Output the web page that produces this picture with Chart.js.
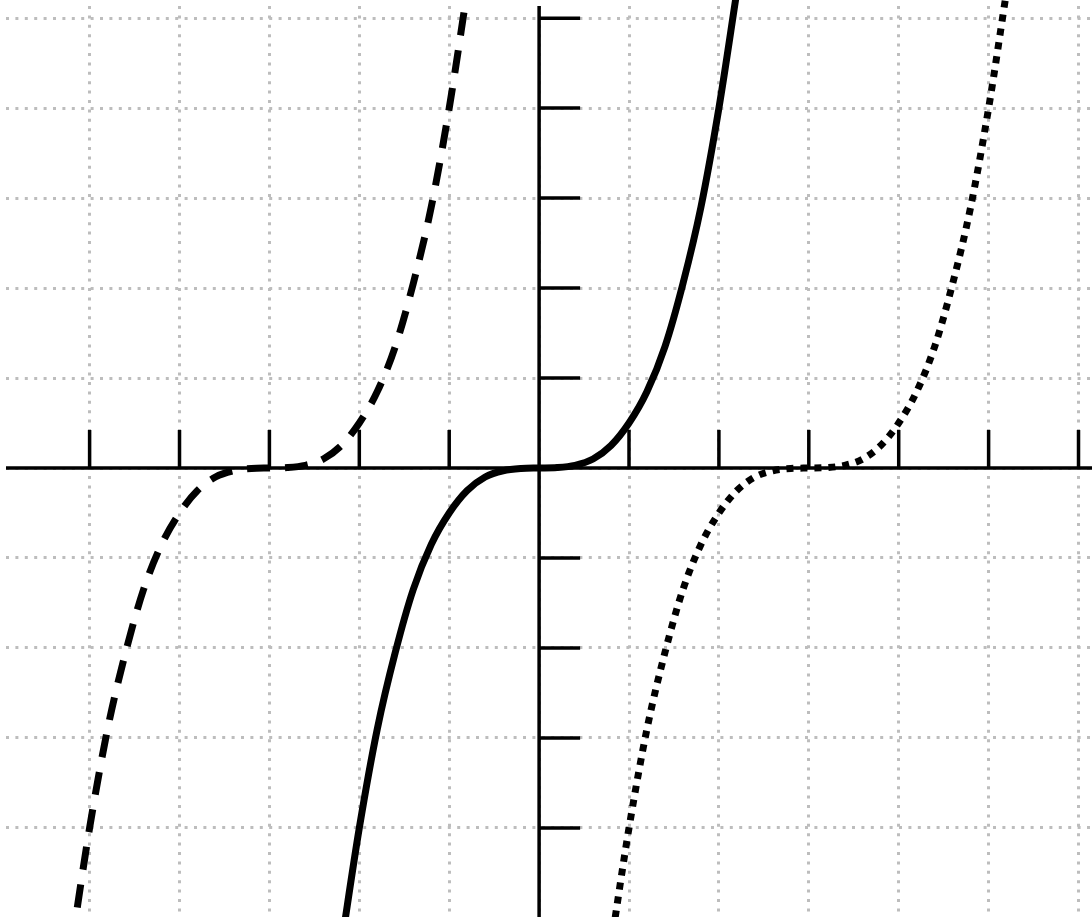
<!DOCTYPE html>
<html>
<head>
<meta charset="utf-8">
<script src="https://cdn.jsdelivr.net/npm/chart.js@4.4.0/dist/chart.umd.min.js"></script>
<style>
  html, body { margin: 0; padding: 0; background: #fff; }
  #wrap { width: 1092px; height: 917px; position: relative; }
</style>
</head>
<body>
<div id="wrap"><canvas id="cubic"></canvas></div>

<script>
// values (x in grid units, y in units where one grid row = 2)
var solidX  = [-2.2, -2.0, -1.8, -1.6, -1.4, -1.2, -1.0, -0.8, -0.6, -0.4, -0.2, 0, 0.2, 0.4, 0.6, 0.8, 1.0, 1.2, 1.4, 1.6, 1.8, 2.0, 2.2];
var solidY  = [-10.6, -8.0, -5.8, -4.1, -2.7, -1.7, -1.0, -0.5, -0.2, -0.06, -0.01, 0, 0.01, 0.06, 0.2, 0.5, 1.0, 1.7, 2.7, 4.1, 5.8, 8.0, 10.6];

var dashedX = [-5.2, -5.0, -4.8, -4.6, -4.4, -4.2, -4.0, -3.8, -3.6, -3.4, -3.2, -3.0, -2.8, -2.6, -2.4, -2.2, -2.0, -1.8, -1.6, -1.4, -1.2, -1.0, -0.8];
var dashedY = [-10.6, -8.0, -5.8, -4.1, -2.7, -1.7, -1.0, -0.5, -0.2, -0.06, -0.01, 0, 0.01, 0.06, 0.2, 0.5, 1.0, 1.7, 2.7, 4.1, 5.8, 8.0, 10.6];

var dottedX = [0.8, 1.0, 1.2, 1.4, 1.6, 1.8, 2.0, 2.2, 2.4, 2.6, 2.8, 3.0, 3.2, 3.4, 3.6, 3.8, 4.0, 4.2, 4.4, 4.6, 4.8, 5.0, 5.2];
var dottedY = [-10.6, -8.0, -5.8, -4.1, -2.7, -1.7, -1.0, -0.5, -0.2, -0.06, -0.01, 0, 0.01, 0.06, 0.2, 0.5, 1.0, 1.7, 2.7, 4.1, 5.8, 8.0, 10.6];

var xRange = [-5.93, 6.15];
var yRange = [-9.98, 10.27];
var xStep = 1;
var yStep = 2;

function pts(xs, ys) {
    return xs.map(function (x, i) { return { x: x, y: ys[i] }; });
}

// one tick per whole step inside the range (Chart.js drops the ones near the edges)
function stepTicks(step) {
    return function (scale) {
        var out = [];
        for (var v = Math.ceil(scale.min / step) * step; v <= scale.max + 1e-9; v += step) {
            out.push({ value: v });
        }
        scale.ticks = out;
    };
}

// axes through the origin with short tick marks, like the hand-drawn plot
var originAxes = {
    id: 'originAxes',
    beforeDatasetsDraw: function (chart) {
        var ctx = chart.ctx, xs = chart.scales.x, ys = chart.scales.y, area = chart.chartArea;
        var x0 = xs.getPixelForValue(0), y0 = ys.getPixelForValue(0);
        ctx.save();
        ctx.strokeStyle = '#000';
        ctx.lineWidth = 3.5;
        ctx.lineCap = 'butt';
        ctx.beginPath();
        ctx.moveTo(area.left, y0); ctx.lineTo(area.right, y0);
        ctx.moveTo(x0, area.top); ctx.lineTo(x0, area.bottom);
        xs.ticks.forEach(function (t) {
            if (t.value === 0) return;
            var px = xs.getPixelForValue(t.value);
            ctx.moveTo(px, y0 - 38); ctx.lineTo(px, y0);
        });
        ys.ticks.forEach(function (t) {
            if (t.value === 0) return;
            var py = ys.getPixelForValue(t.value);
            ctx.moveTo(x0, py); ctx.lineTo(x0 + 41, py);
        });
        ctx.stroke();
        ctx.restore();
    }
};

function gridOpts() {
    return {
        color: '#bdbdbd',
        lineWidth: 3,
        drawTicks: false
    };
}

var ctx = document.getElementById('cubic').getContext('2d');
var chart = new Chart(ctx, {
    type: 'scatter',
    data: {
        datasets: [{
            label: 'solid',
            data: pts(solidX, solidY),
            showLine: true,
            borderColor: '#000',
            borderWidth: 7,
            cubicInterpolationMode: 'monotone',
            pointRadius: 0,
            clip: 10
        }, {
            label: 'dashed',
            data: pts(dashedX, dashedY),
            showLine: true,
            borderColor: '#000',
            borderWidth: 7,
            borderDash: [23, 15],
            borderCapStyle: 'butt',
            cubicInterpolationMode: 'monotone',
            pointRadius: 0,
            clip: 10
        }, {
            label: 'dotted',
            data: pts(dottedX, dottedY),
            showLine: true,
            borderColor: '#000',
            borderWidth: 7,
            borderDash: [7, 7],
            borderCapStyle: 'butt',
            cubicInterpolationMode: 'monotone',
            pointRadius: 0,
            clip: 10
        }]
    },
    options: {
        responsive: true,
        maintainAspectRatio: false,
        animation: false,
        layout: { padding: { left: 6, top: 6, right: 0, bottom: 0 } },
        plugins: {
            legend: { display: false },
            tooltip: { enabled: false }
        },
        scales: {
            x: {
                type: 'linear',
                min: xRange[0],
                max: xRange[1],
                afterBuildTicks: stepTicks(xStep),
                ticks: { display: false, stepSize: xStep },
                grid: gridOpts(),
                border: { display: false, dash: [3, 6.4] }
            },
            y: {
                type: 'linear',
                min: yRange[0],
                max: yRange[1],
                afterBuildTicks: stepTicks(yStep),
                ticks: { display: false, stepSize: yStep },
                grid: gridOpts(),
                border: { display: false, dash: [3, 6.4] }
            }
        }
    },
    plugins: [originAxes]
});
</script>
</body>
</html>
